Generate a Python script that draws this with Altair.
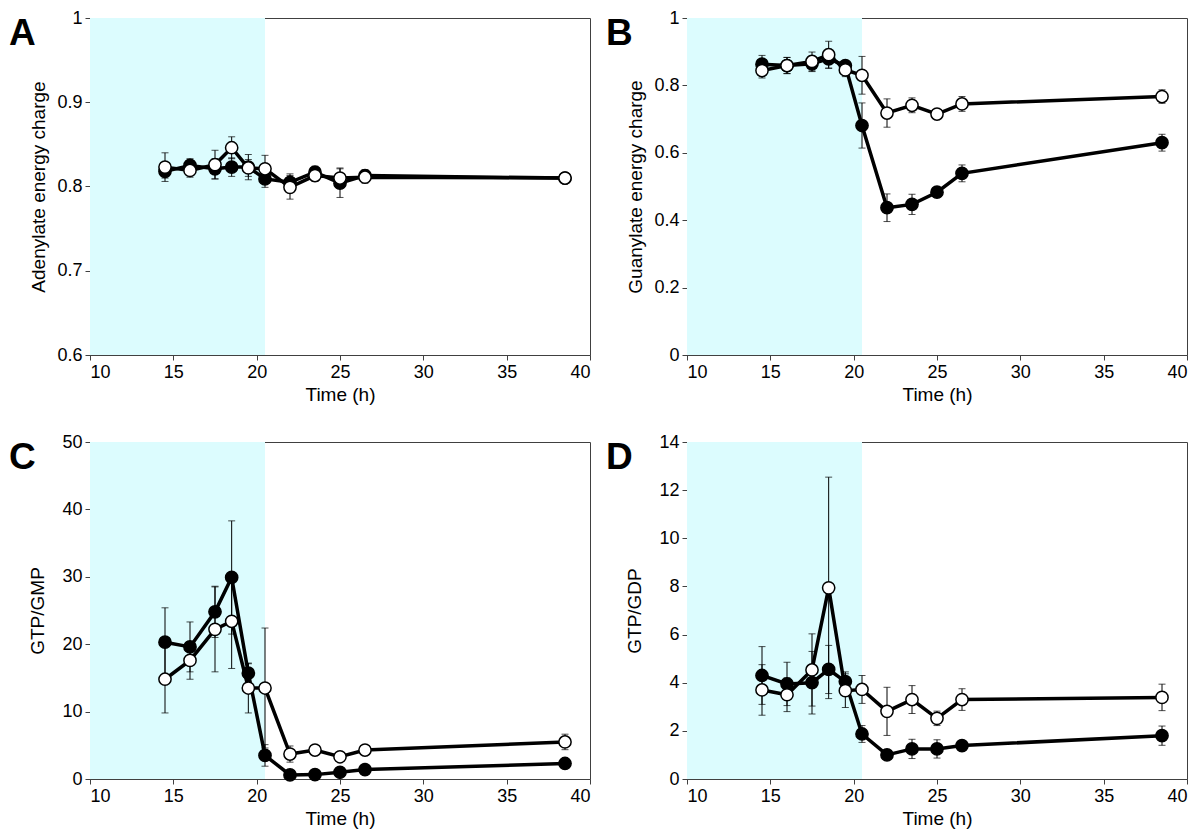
import altair as alt
import pandas as pd

# ---------------- data ----------------
times = [14.5, 16, 17.5, 18.5, 19.5, 20.5, 22, 23.5, 25, 26.5, 38.5]
shade_start = [10]
shade_end = [20.5]
x_ticks = [10, 15, 20, 25, 30, 35, 40]

# Panel A: Adenylate energy charge
a_filled = [0.818, 0.825, 0.821, 0.823, 0.823, 0.809, 0.805, 0.817, 0.804, 0.813, 0.810]
a_filled_err = [0.008, 0.008, 0.012, 0.011, 0.015, 0.010, 0.010, 0.007, 0.017, 0.007, 0.005]
a_open = [0.823, 0.819, 0.826, 0.846, 0.822, 0.821, 0.799, 0.813, 0.810, 0.811, 0.810]
a_open_err = [0.017, 0.008, 0.017, 0.013, 0.010, 0.016, 0.014, 0.007, 0.012, 0.007, 0.004]
a_ticks = [0.6, 0.7, 0.8, 0.9, 1.0]

# Panel B: Guanylate energy charge
b_filled = [0.863, 0.859, 0.864, 0.879, 0.859, 0.681, 0.437, 0.447, 0.483, 0.539, 0.630]
b_filled_err = [0.026, 0.024, 0.023, 0.028, 0.015, 0.067, 0.041, 0.030, 0.015, 0.025, 0.025]
b_open = [0.844, 0.859, 0.871, 0.891, 0.846, 0.830, 0.718, 0.741, 0.715, 0.745, 0.767]
b_open_err = [0.022, 0.024, 0.028, 0.040, 0.020, 0.056, 0.042, 0.022, 0.012, 0.022, 0.020]
b_ticks = [0, 0.2, 0.4, 0.6, 0.8, 1.0]

# Panel C: GTP/GMP
c_filled = [20.3, 19.6, 24.8, 29.9, 15.7, 3.5, 0.6, 0.65, 1.0, 1.4, 2.3]
c_filled_err = [5.1, 3.7, 3.8, 8.4, 1.4, 1.6, 0.3, 0.3, 0.3, 0.3, 0.4]
c_open = [14.8, 17.6, 22.2, 23.4, 13.5, 13.5, 3.7, 4.3, 3.3, 4.3, 5.5]
c_open_err = [5.0, 2.8, 6.3, 7.0, 3.7, 8.9, 1.2, 0.5, 0.6, 0.5, 1.15]
c_ticks = [0, 10, 20, 30, 40, 50]

# Panel D: GTP/GDP
d_filled = [4.3, 3.95, 4.0, 4.55, 4.05, 1.87, 1.0, 1.25, 1.25, 1.39, 1.8]
d_filled_err = [1.2, 0.9, 1.3, 1.0, 0.4, 0.35, 0.1, 0.4, 0.38, 0.1, 0.4]
d_open = [3.7, 3.5, 4.53, 7.94, 3.67, 3.72, 2.81, 3.3, 2.52, 3.3, 3.39]
d_open_err = [1.05, 0.7, 1.5, 4.6, 0.7, 0.58, 1.0, 0.58, 0.3, 0.45, 0.55]
d_ticks = [0, 2, 4, 6, 8, 10, 12, 14]

W, H = 500, 337
FONT = "Liberation Sans"
SHADE = "#dcfcfe"


def panel(letter, ytitle, yticks, filled, ferr, opn, oerr, ytp):
    ydom = [yticks[0], yticks[-1]]
    xscale = alt.Scale(domain=[10, 40], nice=False)
    yscale = alt.Scale(domain=ydom, nice=False)
    xaxis = alt.Axis(values=x_ticks, title="Time (h)", format="~r", titlePadding=4)
    yaxis = alt.Axis(values=yticks, title=ytitle, format="~r", titlePadding=ytp)

    def X(f):
        return alt.X(f, scale=xscale, axis=xaxis, title="Time (h)")

    def Y(f):
        return alt.Y(f, scale=yscale, axis=yaxis, title=ytitle)

    shade = alt.Chart(pd.DataFrame({"s": shade_start, "e": shade_end})).mark_rect(
        color=SHADE
    ).encode(
        x=X("s:Q"),
        x2="e:Q",
        y=alt.value(0),
        y2=alt.value(H),
    )

    layers = [shade]
    for vals, errs, fill in [(filled, ferr, "black"), (opn, oerr, "white")]:
        df = pd.DataFrame({
            "t": times,
            "v": vals,
            "lo": [v - e for v, e in zip(vals, errs)],
            "hi": [v + e for v, e in zip(vals, errs)],
        })
        base = alt.Chart(df)
        eb = base.mark_errorbar(
            ticks={"size": 7}, thickness=1, color="black"
        ).encode(
            x=X("t:Q"),
            y=Y("lo:Q"),
            y2="hi:Q",
        )
        line = base.mark_line(color="black", strokeWidth=3.5).encode(
            x=X("t:Q"),
            y=Y("v:Q"),
        )
        pts = base.mark_point(
            shape="circle", filled=True, fill=fill, stroke="black",
            strokeWidth=1.5, size=150, opacity=1,
        ).encode(
            x=X("t:Q"),
            y=Y("v:Q"),
        )
        layers += [eb, line, pts]

    lab = alt.Chart(pd.DataFrame({"l": [letter]})).mark_text(
        align="left", baseline="top", fontSize=37, fontWeight="bold", font=FONT,
        color="black",
    ).encode(x=alt.value(-81), y=alt.value(-2), text="l:N")
    layers.append(lab)

    return alt.layer(*layers).properties(width=W, height=H)


pA = panel("A", "Adenylate energy charge", a_ticks, a_filled, a_filled_err, a_open, a_open_err, 8)
pB = panel("B", "Guanylate energy charge", b_ticks, b_filled, b_filled_err, b_open, b_open_err, 8)
pC = panel("C", "GTP/GMP", c_ticks, c_filled, c_filled_err, c_open, c_open_err, 14)
pD = panel("D", "GTP/GDP", d_ticks, d_filled, d_filled_err, d_open, d_open_err, 14)

chart = alt.vconcat(
    alt.hconcat(pA, pB, spacing=14),
    alt.hconcat(pC, pD, spacing=14),
    spacing=27,
).properties(padding=0).configure_axis(
    labelFont=FONT, titleFont=FONT, labelFontSize=18, titleFontSize=19,
    titleFontWeight="normal", labelColor="black", titleColor="black",
    grid=False, domainColor="#404040", tickColor="#404040", tickSize=5,
    labelPadding=3,
).configure_view(stroke="#404040", strokeWidth=1)

chart.save("out.html", embed_options={"renderer": "svg", "actions": False})
